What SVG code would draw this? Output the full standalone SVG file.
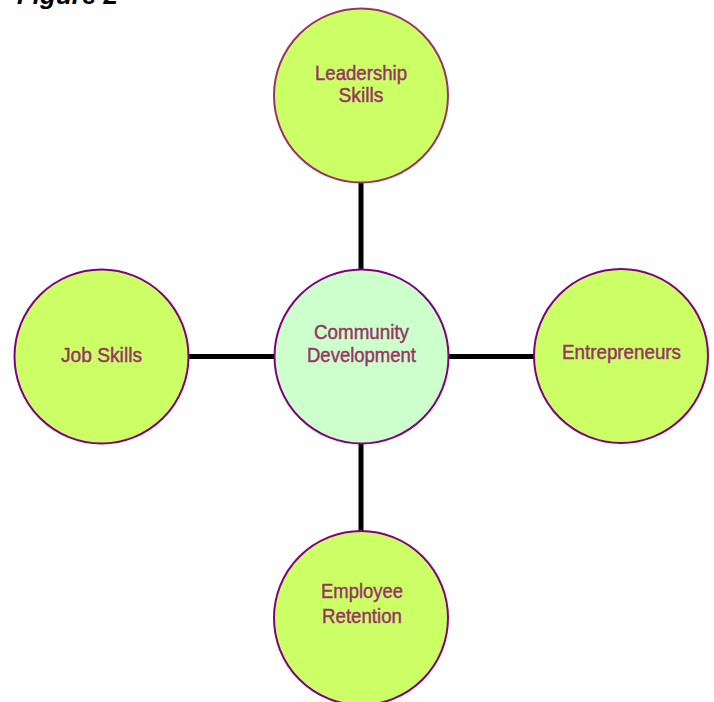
<svg xmlns="http://www.w3.org/2000/svg" width="714" height="702" viewBox="0 0 714 702">
<style>
.node{fill:#CCFF66;stroke:#800080;stroke-width:2}
.center{fill:#CCFFCC;stroke:#800080;stroke-width:2}
.lbl{font-family:"Liberation Sans",Arial,sans-serif;font-size:21px;fill:#993366;stroke:#993366;stroke-width:0.45;text-anchor:middle}
.conn{stroke:#000;stroke-width:5;fill:none}
</style>
<rect width="714" height="702" fill="#fff"/>
<text x="17" y="4" font-family="Liberation Sans,Arial,sans-serif" font-size="25" font-weight="bold" font-style="italic" fill="#000" textLength="101" lengthAdjust="spacingAndGlyphs">Figure 2</text>
<g id="connectors">
<line class="conn" x1="361" y1="183" x2="361" y2="270"/>
<line class="conn" x1="361" y1="443" x2="361" y2="531"/>
<line class="conn" x1="189" y1="356.5" x2="275" y2="356.5"/>
<line class="conn" x1="448" y1="356.5" x2="535" y2="356.5"/>
</g>
<g id="leadership">
<circle class="node" cx="361" cy="95.5" r="87" style="stroke:#993366"/>
<text class="lbl" x="361" y="80" textLength="92" lengthAdjust="spacingAndGlyphs">Leadership</text>
<text class="lbl" x="361" y="102" textLength="45" lengthAdjust="spacingAndGlyphs">Skills</text>
</g>
<g id="community">
<circle class="center" cx="361.5" cy="356.5" r="87"/>
<text class="lbl" x="361.5" y="339" textLength="95" lengthAdjust="spacingAndGlyphs">Community</text>
<text class="lbl" x="361.5" y="362" textLength="109" lengthAdjust="spacingAndGlyphs">Development</text>
</g>
<g id="jobskills">
<circle class="node" cx="101.5" cy="356.5" r="87"/>
<text class="lbl" x="101.5" y="362" textLength="81" lengthAdjust="spacingAndGlyphs">Job Skills</text>
</g>
<g id="entrepreneurs">
<circle class="node" cx="621" cy="356" r="87"/>
<text class="lbl" x="621.5" y="359" textLength="119" lengthAdjust="spacingAndGlyphs">Entrepreneurs</text>
</g>
<g id="employee">
<circle class="node" cx="361" cy="618" r="87"/>
<text class="lbl" x="362" y="598" textLength="82" lengthAdjust="spacingAndGlyphs">Employee</text>
<text class="lbl" x="362" y="623" textLength="80" lengthAdjust="spacingAndGlyphs">Retention</text>
</g>
</svg>
